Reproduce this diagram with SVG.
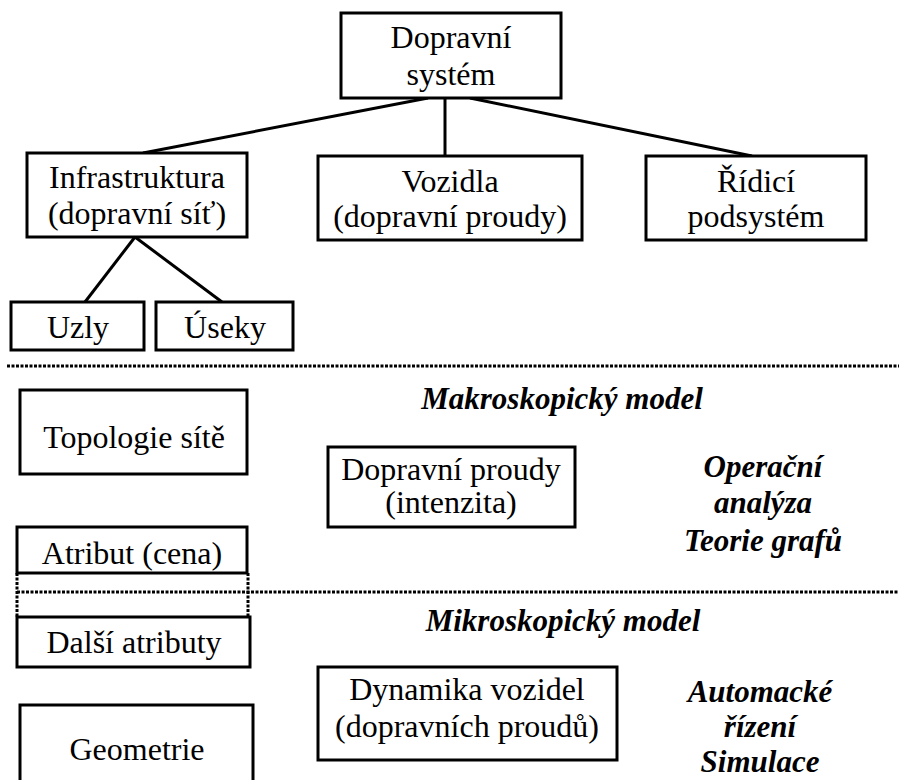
<svg xmlns="http://www.w3.org/2000/svg" width="899" height="780" viewBox="0 0 899 780">
<rect width="899" height="780" fill="#fff"/>
<g id="connectors" stroke="#000" stroke-width="3" fill="none">
<line x1="428" y1="98" x2="143" y2="153"/>
<line x1="445" y1="98" x2="445" y2="156"/>
<line x1="470" y1="98" x2="752" y2="156"/>
<line x1="135" y1="237" x2="85" y2="302"/>
<line x1="135" y1="237" x2="222" y2="302"/>
</g>
<g id="separators" stroke="#000" stroke-width="3" fill="none" stroke-dasharray="3 1.5">
<line x1="7" y1="366" x2="899" y2="366"/>
<line x1="17" y1="592" x2="899" y2="592"/>
<line x1="17" y1="573" x2="17" y2="617"/>
<line x1="248" y1="573" x2="248" y2="617"/>
</g>
<g id="dopravni-system">
<rect x="341" y="13" width="220" height="85" fill="#fff" stroke="#000" stroke-width="3"/>
<text x="451" y="48" font-family="Liberation Serif" font-size="32" text-anchor="middle">Dopravní</text>
<text x="451" y="85" font-family="Liberation Serif" font-size="32" text-anchor="middle">systém</text>
</g>
<g id="infrastruktura">
<rect x="27" y="153" width="220" height="84" fill="#fff" stroke="#000" stroke-width="3"/>
<text x="137" y="188" font-family="Liberation Serif" font-size="32" text-anchor="middle">Infrastruktura</text>
<text x="137" y="224" font-family="Liberation Serif" font-size="32" text-anchor="middle">(dopravní síť)</text>
</g>
<g id="vozidla">
<rect x="318" y="156" width="264" height="84" fill="#fff" stroke="#000" stroke-width="3"/>
<text x="450" y="192" font-family="Liberation Serif" font-size="32" text-anchor="middle">Vozidla</text>
<text x="450" y="227" font-family="Liberation Serif" font-size="32" text-anchor="middle">(dopravní proudy)</text>
</g>
<g id="ridici">
<rect x="646" y="156" width="220" height="84" fill="#fff" stroke="#000" stroke-width="3"/>
<text x="756" y="192" font-family="Liberation Serif" font-size="32" text-anchor="middle">Řídicí</text>
<text x="756" y="227" font-family="Liberation Serif" font-size="32" text-anchor="middle">podsystém</text>
</g>
<g id="uzly">
<rect x="11" y="302" width="133" height="48" fill="#fff" stroke="#000" stroke-width="3"/>
<text x="78" y="338" font-family="Liberation Serif" font-size="32" text-anchor="middle">Uzly</text>
</g>
<g id="useky">
<rect x="156" y="302" width="137" height="48" fill="#fff" stroke="#000" stroke-width="3"/>
<text x="225" y="338" font-family="Liberation Serif" font-size="32" text-anchor="middle">Úseky</text>
</g>
<g id="makro-label">
<text x="562" y="409" font-family="Liberation Serif" font-size="31" font-weight="bold" font-style="italic" text-anchor="middle">Makroskopický model</text>
</g>
<g id="topologie">
<rect x="20" y="390" width="227" height="84" fill="#fff" stroke="#000" stroke-width="3"/>
<text x="134" y="448" font-family="Liberation Serif" font-size="32" text-anchor="middle">Topologie sítě</text>
</g>
<g id="atribut">
<rect x="17" y="527" width="230" height="46" fill="#fff" stroke="#000" stroke-width="3"/>
<text x="132" y="564" font-family="Liberation Serif" font-size="32" text-anchor="middle">Atribut (cena)</text>
</g>
<g id="dopravni-proudy">
<rect x="328" y="447" width="247" height="80" fill="#fff" stroke="#000" stroke-width="3"/>
<text x="451" y="480" font-family="Liberation Serif" font-size="32" text-anchor="middle">Dopravní proudy</text>
<text x="451" y="513" font-family="Liberation Serif" font-size="32" text-anchor="middle">(intenzita)</text>
</g>
<g id="operacni">
<text x="763" y="477" font-family="Liberation Serif" font-size="31" font-weight="bold" font-style="italic" text-anchor="middle">Operační</text>
<text x="763" y="513" font-family="Liberation Serif" font-size="31" font-weight="bold" font-style="italic" text-anchor="middle">analýza</text>
<text x="763" y="551" font-family="Liberation Serif" font-size="31" font-weight="bold" font-style="italic" text-anchor="middle">Teorie grafů</text>
</g>
<g id="mikro-label">
<text x="563" y="631" font-family="Liberation Serif" font-size="31" font-weight="bold" font-style="italic" text-anchor="middle">Mikroskopický model</text>
</g>
<g id="dalsi">
<rect x="17" y="617" width="233" height="50" fill="#fff" stroke="#000" stroke-width="3"/>
<text x="134" y="653" font-family="Liberation Serif" font-size="32" text-anchor="middle">Další atributy</text>
</g>
<g id="geometrie">
<rect x="20" y="705" width="233" height="90" fill="#fff" stroke="#000" stroke-width="3"/>
<text x="137" y="760" font-family="Liberation Serif" font-size="32" text-anchor="middle">Geometrie</text>
</g>
<g id="dynamika">
<rect x="318" y="667" width="299" height="93" fill="#fff" stroke="#000" stroke-width="3"/>
<text x="467" y="700" font-family="Liberation Serif" font-size="32" text-anchor="middle">Dynamika vozidel</text>
<text x="467" y="737" font-family="Liberation Serif" font-size="32" text-anchor="middle">(dopravních proudů)</text>
</g>
<g id="automacke">
<text x="760" y="702" font-family="Liberation Serif" font-size="31" font-weight="bold" font-style="italic" text-anchor="middle">Automacké</text>
<text x="760" y="737" font-family="Liberation Serif" font-size="31" font-weight="bold" font-style="italic" text-anchor="middle">řízení</text>
<text x="760" y="772" font-family="Liberation Serif" font-size="31" font-weight="bold" font-style="italic" text-anchor="middle">Simulace</text>
</g>
</svg>
